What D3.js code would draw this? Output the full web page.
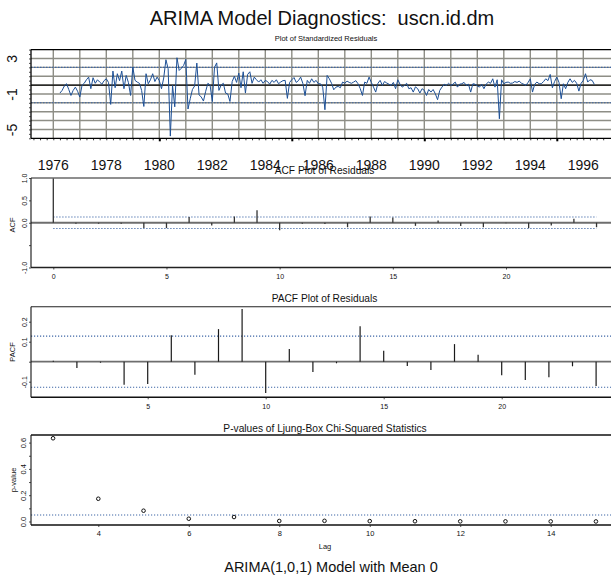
<!DOCTYPE html>
<html>
<head>
<meta charset="utf-8">
<script src="https://cdn.jsdelivr.net/npm/d3@7"></script>
<style>
  html, body { margin: 0; padding: 0; background: #fff; }
  svg { display: block; }
</style>
</head>
<body>
<svg id="chart" width="611" height="578"></svg>
<script>
// ---- Standardized residuals (monthly, starting April 1976) ----
const residStart = 1976.25;
const residuals = [
  -0.9, -0.6, -0.1, 0.15, -0.5, -1.17, -0.6, -0.23, -0.7, -1.35, -0.04, 0.2,
  0.6, 0.9, -0.41, 0.83, 0.2, 0.6, 0.34, 0.1, 0.5, 0.71, 0.3, -2.18,
  1.58, -0.3, 1.28, 0.5, 1.58, -0.41, 1.09, 0.3, -1.17, 2.03, 0.53, 0.34,
  0.2, -0.6, -2.41, 1.28, 0.15, 0.6, 1.28, 0.4, 0.9, 0.5, -0.41, 0.8,
  2.86, 1.84, -5.75, -0.04, -2.45, 3.08, 1.65, 1.9, 2.2, 2.9, -2.7, -1.54,
  -0.5, -0.1, 2.48, -1.1, -1.35, -1.8, -0.7, 0.2, 0.0, -1.85, 2.0, 2.5,
  -0.6, 0.0, 0.2, -0.9, -1.0, -1.85, 0.4, 1.0, 0.3, 1.35, -0.3, 1.5,
  -0.9, 1.2, 1.5, 0.2, 0.9, 0.6, 0.34, 0.6, 0.2, 0.53, 0.4, 0.1,
  0.53, 0.3, 0.6, 0.15, 0.35, 0.5, 0.53, -1.5, 0.3, 0.6, 0.85, 0.3,
  0.5, 0.9, 0.2, -1.2, 0.53, 0.2, 0.71, 0.3, 0.53, 0.15, 0.15, -0.23,
  -2.78, 1.09, 0.71, 0.2, -0.53, -0.23, -0.15, -0.3, 0.34, 0.2, 0.45, 0.3,
  0.2, 0.34, 0.5, 0.15, -0.4, -1.17, 0.34, 0.2, 0.9, 0.3, -0.23, -0.79,
  0.2, 0.53, -0.04, 0.4, 0.23, 0.1, -0.04, 0.3, -0.41, 0.6, 0.1, -0.23,
  -0.04, 0.2, -0.41, -0.3, -0.79, -0.2, -0.41, -0.9, -0.41, -0.6, -1.17, -0.5,
  -0.79, -0.5, -0.98, -1.65, -0.6, -0.23, 0.1, -0.04, 0.2, -0.04, 0.1, 0.34,
  -0.23, 0.1, 0.15, 0.3, -0.04, 0.1, -0.79, 0.15, 0.1, -0.1, -0.23, 0.1,
  -0.41, 0.1, 0.34, 0.2, 0.71, -0.23, 0.6, -3.8, 0.6, 0.15, 0.3, 0.34,
  0.2, 0.23, 0.4, 0.3, 0.45, 0.2, 0.1, -0.04, 0.3, 0.71, -0.79, 0.1,
  0.34, 0.15, 0.15, 0.4, 0.71, 0.5, 1.2, -0.3, 0.4, 0.9, 0.3, -1.54,
  0.15, -0.41, 0.3, 0.71, 0.3, 0.53, 0.2, -0.68, 0.2, 0.53, 1.28, 0.34,
  0.6, 0.53, 0.08
];
const residTickLabels = [3, -1, -5];
const residBand = 2;
const yearLabels = [1976, 1978, 1980, 1982, 1984, 1986, 1988, 1990, 1992, 1994, 1996];

// ---- ACF of residuals, lags 0..24 ----
const acfValues = [1.0, -0.02, -0.02, -0.02, -0.12, -0.12, 0.13, -0.06, 0.14, 0.28,
  -0.17, -0.02, -0.03, -0.10, 0.14, 0.12, -0.07, 0.05, -0.07, -0.10,
  -0.01, -0.12, -0.06, 0.09, -0.10];
const acfBound = 0.128;
const acfXTicks = [0, 5, 10, 15, 20];
const acfYTicks = [-1, -0.5, 0, 0.5, 1];
const acfYLabels = [-1, 0, 0.5, 1];

// ---- PACF of residuals, lags 1..24 ----
const pacfValues = [0.005, -0.032, -0.005, -0.115, -0.112, 0.132, -0.065, 0.163, 0.263, -0.157,
  0.063, -0.052, -0.008, 0.177, 0.055, -0.022, -0.042, 0.088, 0.035, -0.068,
  -0.092, -0.078, -0.023, -0.122];
const pacfBound = 0.128;
const pacfXTicks = [5, 10, 15, 20];
const pacfYTicks = [-0.1, 0, 0.1, 0.2];
const pacfYLabels = [-0.1, 0.1, 0.2];

// ---- Ljung-Box p-values ----
const lbLags = [3, 4, 5, 6, 7, 8, 9, 10, 11, 12, 13, 14, 15];
const lbPValues = [0.633, 0.173, 0.082, 0.021, 0.034, 0.004, 0.005, 0.003, 0.002, 0.001, 0.001, 0.0005, 0.0003];
const lbLevel = 0.05;
const lbXTicks = [4, 6, 8, 10, 12, 14];
const lbYTicks = [0, 0.1, 0.2, 0.3, 0.4, 0.5, 0.6];
const lbYLabels = [0, 0.2, 0.4, 0.6];

// ---- drawing ----
const FONT = '"Liberation Sans", Arial, Helvetica, sans-serif';
const svg = d3.select("#chart").attr("font-family", FONT);
const L = 31, R = 619;
const fmt1 = d => d.toFixed(1);
const gridGray = "#8e8e86";
const boundBlue = "#3f67a6";

function hline(g, y, x1, x2, stroke, width, dash) {
  const l = g.append("line").attr("x1", x1).attr("x2", x2).attr("y1", y).attr("y2", y)
    .attr("stroke", stroke).attr("stroke-width", width);
  if (dash) l.attr("stroke-dasharray", dash);
  return l;
}
function vline(g, x, y1, y2, stroke, width) {
  return g.append("line").attr("x1", x).attr("x2", x).attr("y1", y1).attr("y2", y2)
    .attr("stroke", stroke).attr("stroke-width", width);
}

// rotated y-axis labels to the left of the frame
function leftAxis(scale, ticks, labelled, fmt, fs, offset, tick) {
  const g = svg.append("g").attr("transform", `translate(${L},0)`);
  g.call(d3.axisLeft(scale).tickValues(ticks).tickSize(tick)
    .tickFormat(d => labelled.some(v => Math.abs(v - d) < 1e-9) ? fmt(d) : ""));
  g.attr("font-family", FONT).attr("font-size", fs);
  g.select(".domain").remove();
  g.selectAll(".tick line").attr("stroke", "#222").attr("stroke-width", 0.8);
  g.selectAll(".tick text")
    .attr("x", null).attr("dy", null)
    .attr("text-anchor", "middle")
    .attr("fill", "#111")
    .attr("transform", `translate(${-offset},0) rotate(-90)`);
  return g;
}
function bottomAxis(scale, y, ticks, fs, labelY, tick) {
  const g = svg.append("g").attr("transform", `translate(0,${y})`);
  g.call(d3.axisBottom(scale).tickValues(ticks).tickSize(tick).tickFormat(d => d));
  g.attr("font-family", FONT).attr("font-size", fs);
  g.select(".domain").remove();
  g.selectAll(".tick line").attr("stroke", "#222").attr("stroke-width", 0.8);
  g.selectAll(".tick text").attr("y", labelY).attr("dy", null).attr("fill", "#111");
  return g;
}
function rotLabel(x, y, txt, fs) {
  svg.append("text").attr("transform", `translate(${x},${y}) rotate(-90)`)
    .attr("text-anchor", "middle").attr("font-size", fs).attr("fill", "#111").text(txt);
}
function title(x, y, txt, fs) {
  svg.append("text").attr("x", x).attr("y", y).attr("text-anchor", "middle")
    .attr("font-size", fs).attr("fill", "#111").style("white-space", "pre").text(txt);
}

// main titles
title(322, 25, "ARIMA Model Diagnostics:  uscn.id.dm", 20);
title(331, 572, "ARIMA(1,0,1) Model with Mean 0", 14.5);

// ===== Panel 1: standardized residuals =====
const resX = d3.scaleLinear().domain([1976, 1996]).range([53.3, 583.3]);
const resY = d3.scaleLinear().domain([-6, 4]).range([138.3, 49.6]);
const p1 = svg.append("g");
title(326, 41, "Plot of Standardized Residuals", 7.5);

d3.range(1976, 1997).forEach(yr => vline(p1, resX(yr), resY(4), resY(-6), gridGray, 1.4));
d3.range(-5, 4).forEach(v => hline(p1, resY(v), L, R, gridGray, 1.4));
hline(p1, resY(residBand), L, R, boundBlue, 1.1, "1.5,1.5");
hline(p1, resY(-residBand), L, R, boundBlue, 1.1, "1.5,1.5");
hline(p1, resY(0), L, R, "#000", 1.4);

p1.append("path")
  .datum(residuals)
  .attr("fill", "none")
  .attr("stroke", "#1d5096")
  .attr("stroke-width", 1)
  .attr("stroke-linejoin", "round")
  .attr("d", d3.line().x((d, i) => resX(residStart + i / 12)).y(d => resY(d)));

hline(p1, resY(4), L, R, "#000", 1.3);
hline(p1, resY(-6), L, R, "#000", 1.3);
vline(p1, L, resY(4), resY(-6), "#000", 1.3);

leftAxis(resY, d3.range(-6, 4.01, 0.5), residTickLabels, d => String(d), 14, 14.5, 2);

// quarterly ticks along the bottom, heavier every five years
const qTicks = d3.range(1975.25, 1996.76, 0.25);
const qb = svg.append("g").attr("transform", `translate(0,${resY(-6)})`);
qb.call(d3.axisBottom(resX).tickValues(qTicks).tickSize(2).tickFormat(""));
qb.select(".domain").remove();
qb.selectAll(".tick line")
  .attr("stroke", "#000")
  .attr("stroke-width", d => (Math.abs(d % 5) < 1e-9 ? 2 : 0.8))
  .attr("y2", d => (Math.abs(d % 5) < 1e-9 ? 3 : 2));

svg.append("g").selectAll("text").data(yearLabels).join("text")
  .attr("x", d => resX(d)).attr("y", 170)
  .attr("text-anchor", "middle").attr("font-size", 14).attr("fill", "#111")
  .text(d => d);

// ===== Panel 2: ACF =====
const acfX = d3.scaleLinear().domain([0, 20]).range([53.3, 506]);
const acfY = d3.scaleLinear().domain([-1, 1]).range([267.5, 178]);
const p2 = svg.append("g");
title(324.5, 173.5, "ACF Plot of Residuals", 10.2);

hline(p2, acfY(0), L, R, "#6e6e6e", 1.8);
hline(p2, acfY(acfBound), acfX(0), acfX(24), boundBlue, 1.1, "1.2,1.8");
hline(p2, acfY(-acfBound), acfX(0), acfX(24), boundBlue, 1.1, "1.2,1.8");
p2.append("g").selectAll("line").data(acfValues).join("line")
  .attr("x1", (d, i) => acfX(i)).attr("x2", (d, i) => acfX(i))
  .attr("y1", acfY(0)).attr("y2", d => acfY(d))
  .attr("stroke", "#333").attr("stroke-width", 1.3);
hline(p2, acfY(1), L, R, "#6a6a6a", 1.6);
hline(p2, acfY(-1), L, R, "#222", 1.7);
vline(p2, L, acfY(1), acfY(-1), "#111", 1.1);

leftAxis(acfY, acfYTicks, acfYLabels, fmt1, 7, 4, 2);
rotLabel(15, 225, "ACF", 7.5);
bottomAxis(acfX, acfY(-1), acfXTicks, 7, 11.5, 2);

// ===== Panel 3: PACF =====
const pacfX = d3.scaleLinear().domain([5, 20]).range([147.7, 501.7]);
const pacfY = d3.scaleLinear().domain([-0.1, 0.2]).range([381.7, 321.7]);
const pTop = 306.7, pBot = 397.3;
const p3 = svg.append("g");
title(324.5, 302, "PACF Plot of Residuals", 10.2);

hline(p3, pacfY(0), L, R, "#6e6e6e", 1.8);
hline(p3, pacfY(pacfBound), L, R, boundBlue, 1.1, "1.2,1.8");
hline(p3, pacfY(-pacfBound), L, R, boundBlue, 1.1, "1.2,1.8");
p3.append("g").selectAll("line").data(pacfValues).join("line")
  .attr("x1", (d, i) => pacfX(i + 1)).attr("x2", (d, i) => pacfX(i + 1))
  .attr("y1", pacfY(0)).attr("y2", d => pacfY(d))
  .attr("stroke", "#1a1a1a").attr("stroke-width", 1.2);
hline(p3, pTop, L, R, "#222", 1.1);
hline(p3, pBot, L, R, "#111", 1.6);
vline(p3, L, pTop, pBot, "#111", 1.1);

leftAxis(pacfY, pacfYTicks, pacfYLabels, fmt1, 7, 4, 2);
rotLabel(15, 352, "PACF", 7.5);
bottomAxis(pacfX, pBot, pacfXTicks, 7, 11.7, 2);

// ===== Panel 4: Ljung-Box p-values =====
const lbX = d3.scaleLinear().domain([4, 14]).range([98.3, 550.7]);
const lbY = d3.scaleLinear().domain([0, 0.6]).range([521.5, 442.6]);
const qTop = 435, qBot = 525;
const p4 = svg.append("g");
title(325, 432, "P-values of Ljung-Box Chi-Squared Statistics", 10.2);

hline(p4, lbY(lbLevel), L, R, boundBlue, 1.1, "1.2,1.8");
p4.append("g").selectAll("circle").data(lbPValues).join("circle")
  .attr("cx", (d, i) => lbX(lbLags[i])).attr("cy", d => lbY(d))
  .attr("r", 1.8).attr("fill", "none").attr("stroke", "#111").attr("stroke-width", 1);
hline(p4, qTop, L, R, "#111", 1.3);
hline(p4, qBot, L, R, "#111", 1.6);
vline(p4, L, qTop, qBot, "#111", 1.1);

leftAxis(lbY, lbYTicks, lbYLabels, fmt1, 7.5, 5, 2);
rotLabel(16, 480, "p-value", 7.5);
bottomAxis(lbX, qBot, lbXTicks, 7.5, 11, 2);
title(325, 549, "Lag", 7.5);
</script>
</body>
</html>
